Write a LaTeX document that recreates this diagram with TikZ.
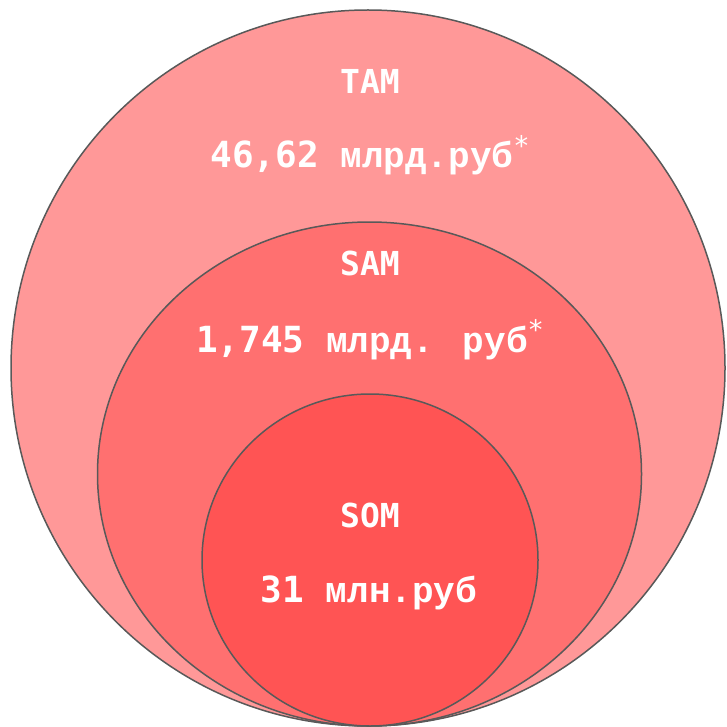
\documentclass[tikz,border=0pt]{standalone}
\usepackage{fontspec}
\newfontfamily\lblfont{DejaVu Sans Mono}
\newfontfamily\digfont{DejaVu Sans Mono}
\newfontfamily\cyrfont{Liberation Mono}
\definecolor{tamfill}{RGB}{255,152,152}
\definecolor{samfill}{RGB}{255,112,112}
\definecolor{somfill}{RGB}{255,84,84}
\definecolor{edge}{RGB}{89,89,89}
\newcommand{\dg}[1]{{\digfont\bfseries #1}}
\newcommand{\cy}[1]{{\cyrfont\bfseries #1}}
\newcommand{\myast}{\raisebox{0.36em}{\fontsize{27}{27}\selectfont\digfont *}}
\begin{document}
\begin{tikzpicture}[x=1pt,y=-1pt,
  ring/.style={draw=edge,line width=1.5pt},
  lbl/.style={text=white,anchor=base,inner sep=0pt,font=\fontsize{33}{33}\selectfont\lblfont\bfseries},
  val/.style={text=white,anchor=base,inner sep=0pt,font=\fontsize{36}{36}\selectfont}]
\useasboundingbox (0,0) rectangle (726,727);
\filldraw[ring,fill=tamfill] (368,368) ellipse [x radius=357, y radius=358];
\filldraw[ring,fill=samfill] (369.5,474) ellipse [x radius=272, y radius=252];
\filldraw[ring,fill=somfill] (370,560) ellipse [x radius=168, y radius=166];
\node[lbl] (tam) at (370,94) {TAM};
\node[val] (tamv) at (370,168) {\dg{46,62\ }\cy{млрд.руб}\myast};
\node[lbl] (sam) at (370,275) {SAM};
\node[val] (samv) at (370,352) {\dg{1,745\ }\cy{млрд. руб}\myast};
\node[lbl] (som) at (370,527) {SOM};
\node[val] (somv) at (369,602) {\dg{31\ }\cy{млн.руб}};
\end{tikzpicture}
\end{document}
